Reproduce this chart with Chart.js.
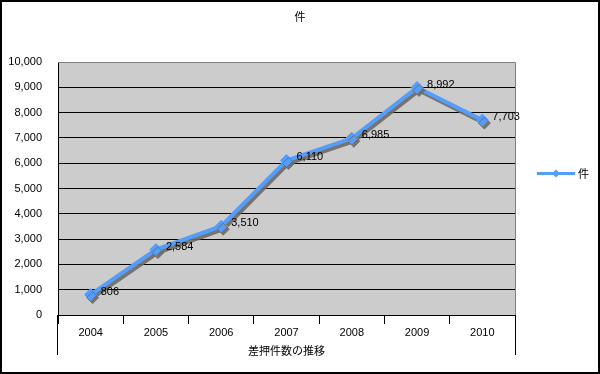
<!DOCTYPE html>
<html>
<head>
<meta charset="utf-8">
<script src="https://cdn.jsdelivr.net/npm/chart.js@4"></script>
<style>
  body { margin: 0; background: #fff; }
  #wrap { width: 600px; height: 374px; }
</style>
</head>
<body>
<div id="wrap"><canvas id="myChart" width="600" height="374"></canvas></div>
<script>
const years = ['2004', '2005', '2006', '2007', '2008', '2009', '2010'];
const counts = [806, 2584, 3510, 6110, 6985, 8992, 7703];
const seriesName = '件';
const chartTitle = '件';
const axisTitle = '差押件数の推移';
const yMax = 10000;
const yStep = 1000;

const lineColor = 'rgb(85,157,250)';
const numFont = '11px "Liberation Sans Narrow", "Liberation Sans", sans-serif';
const jpFont = '11px "Noto Sans CJK JP", sans-serif';

const fmt = v => v.toLocaleString('en-US');

const shadowPlugin = {
    id: 'shadow',
    beforeDatasetDraw(chart) {
        const c = chart.ctx;
        c.save();
        c.shadowColor = 'rgba(110,105,100,0.9)';
        c.shadowOffsetX = 2;
        c.shadowOffsetY = 3;
        c.shadowBlur = 0;
    },
    afterDatasetDraw(chart) {
        chart.ctx.restore();
    }
};

const framePlugin = {
    id: 'frame',
    beforeDraw(chart) {
        const c = chart.ctx;
        const a = chart.chartArea;
        c.save();
        c.fillStyle = '#fff';
        c.fillRect(0, 0, chart.width, chart.height);
        c.fillStyle = '#cccccc';
        c.fillRect(a.left, a.top, a.right - a.left, a.bottom - a.top);
        c.restore();
    },
    afterDraw(chart) {
        const c = chart.ctx;
        const a = chart.chartArea;
        c.save();
        // plot border top / right
        c.strokeStyle = '#808080';
        c.lineWidth = 1;
        c.beginPath();
        c.moveTo(a.left, a.top + 0.5);
        c.lineTo(a.right + 0.5, a.top + 0.5);
        c.lineTo(a.right + 0.5, a.bottom);
        c.stroke();

        // outer category lines reaching down past the group label
        c.strokeStyle = '#000';
        c.beginPath();
        c.moveTo(a.left - 0.5, a.bottom);
        c.lineTo(a.left - 0.5, a.bottom + 40);
        c.moveTo(a.right + 0.5, a.bottom);
        c.lineTo(a.right + 0.5, a.bottom + 40);
        c.stroke();

        // title
        c.fillStyle = '#000';
        c.font = jpFont;
        c.textAlign = 'center';
        c.textBaseline = 'middle';
        c.fillText(chartTitle, chart.width / 2, 17);

        // data labels
        const meta = chart.getDatasetMeta(0);
        c.font = numFont;
        c.textAlign = 'left';
        meta.data.forEach((pt, i) => {
            c.fillText(fmt(counts[i]), pt.x + 10, pt.y - 3);
        });

        // legend
        const ly = (a.top + a.bottom) / 2 - 15;
        const lx = a.right + 22;
        c.strokeStyle = lineColor;
        c.lineWidth = 3;
        c.beginPath();
        c.moveTo(lx, ly);
        c.lineTo(lx + 38, ly);
        c.stroke();
        c.fillStyle = lineColor;
        c.beginPath();
        c.moveTo(lx + 19, ly - 4);
        c.lineTo(lx + 23, ly);
        c.lineTo(lx + 19, ly + 4);
        c.lineTo(lx + 15, ly);
        c.closePath();
        c.fill();
        c.fillStyle = '#000';
        c.font = jpFont;
        c.fillText(seriesName, lx + 41, ly);

        // outer frame
        c.strokeStyle = '#000';
        c.lineWidth = 2;
        c.strokeRect(1, 1, chart.width - 2, chart.height - 2);
        c.restore();
    }
};

const ctx = document.getElementById('myChart');
new Chart(ctx, {
    type: 'line',
    data: {
        labels: years,
        datasets: [{
            label: seriesName,
            data: counts,
            borderColor: lineColor,
            backgroundColor: lineColor,
            borderWidth: 4,
            pointStyle: 'rectRot',
            pointRadius: 6,
            pointHoverRadius: 6,
            pointBorderWidth: 1,
            tension: 0
        }]
    },
    options: {
        responsive: false,
        animation: false,
        events: [],
        layout: { padding: { left: 0, right: 85, top: 62, bottom: 0 } },
        plugins: {
            legend: { display: false },
            title: { display: false },
            tooltip: { enabled: false }
        },
        scales: {
            x: {
                offset: true,
                grid: { offset: true, drawOnChartArea: false, tickLength: 9, color: '#000' },
                border: { color: '#000' },
                ticks: { color: '#000', font: { family: '"Liberation Sans Narrow", "Liberation Sans", sans-serif', size: 11 }, padding: 2, maxRotation: 0 },
                title: {
                    display: true,
                    text: axisTitle,
                    color: '#000',
                    font: { family: '"Noto Sans CJK JP", sans-serif', size: 11 },
                    padding: { top: 0, bottom: 17 }
                },
                afterFit(scale) { scale.height = 59; }
            },
            y: {
                min: 0,
                max: yMax,
                grid: { color: '#000', drawTicks: false },
                border: { color: '#000' },
                ticks: {
                    stepSize: yStep,
                    color: '#000',
                    padding: 16,
                    font: { family: '"Liberation Sans Narrow", "Liberation Sans", sans-serif', size: 11 },
                    callback: v => fmt(v)
                },
                afterFit(scale) { scale.width = 58; }
            }
        }
    },
    plugins: [framePlugin, shadowPlugin]
});
</script>
</body>
</html>
